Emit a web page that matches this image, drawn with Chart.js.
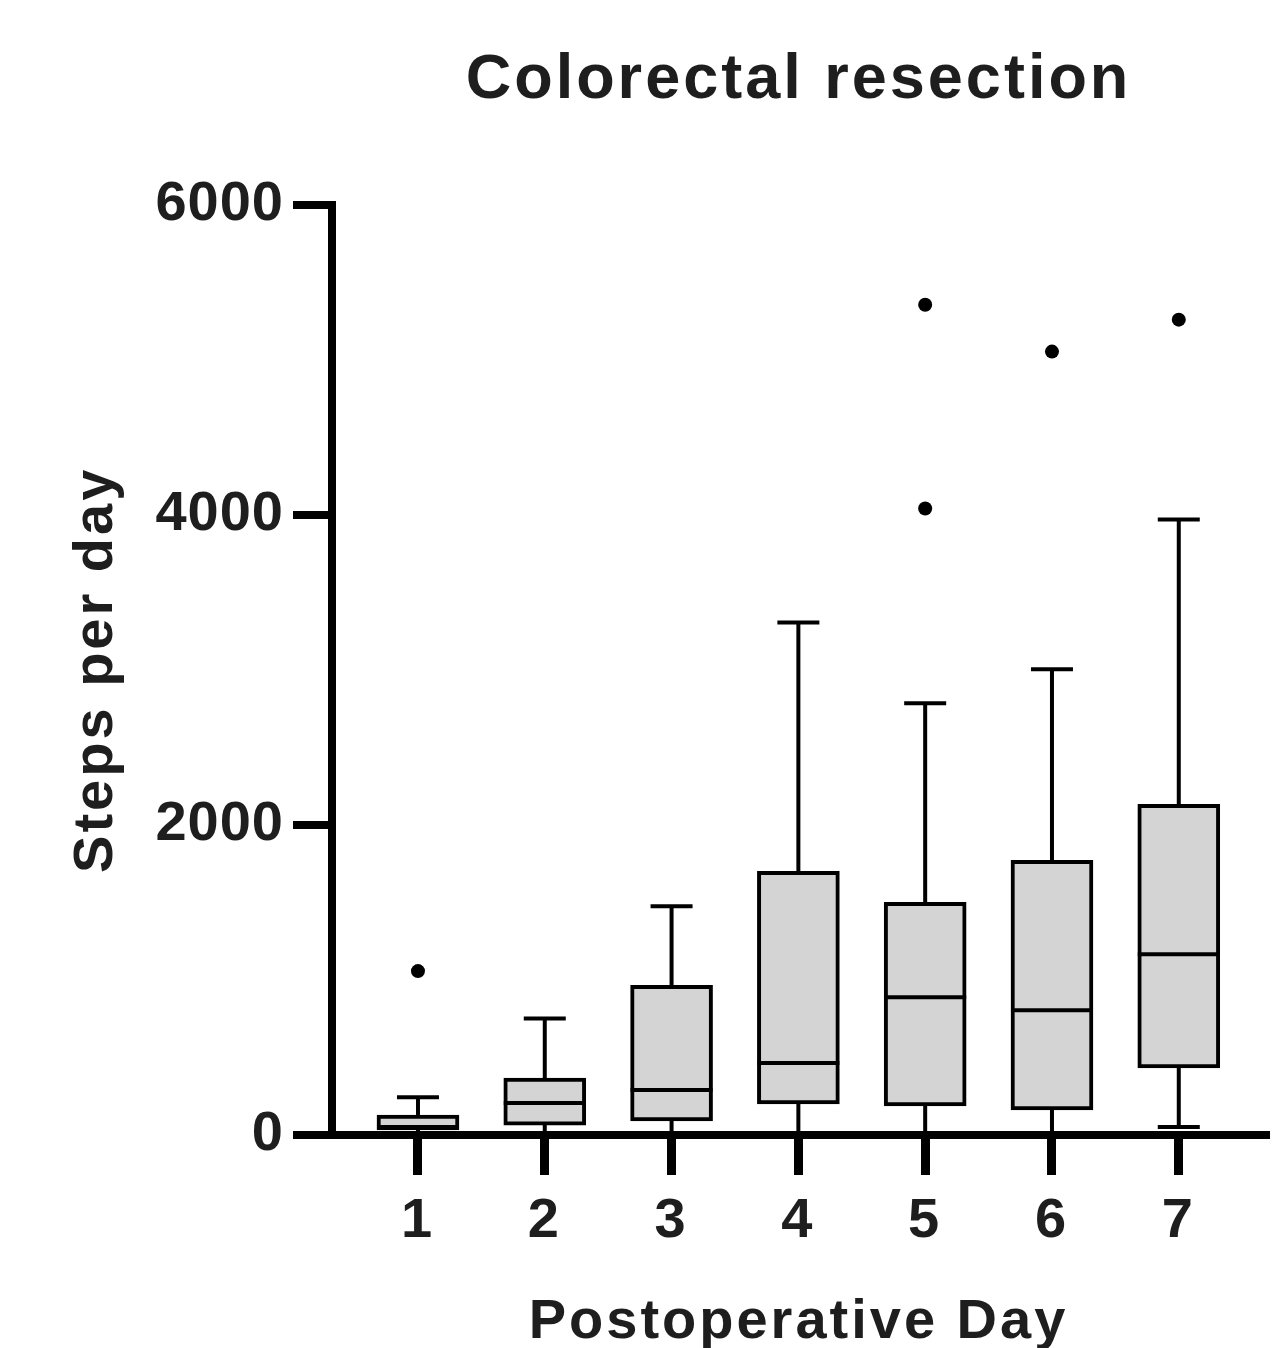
<!DOCTYPE html>
<html><head><meta charset="utf-8">
<script src="https://cdn.jsdelivr.net/npm/chart.js@4.4.1/dist/chart.umd.min.js"></script>
<style>html,body{margin:0;padding:0;background:#fff}canvas{display:block}</style>
</head><body>
<canvas id="c" width="1272" height="1348"></canvas>
<script>
const days = [1, 2, 3, 4, 5, 6, 7];
const dayLabels = ['1', '2', '3', '4', '5', '6', '7'];
const whiskerLow = [0, 0, 0, 0, 0, 0, 52];
const q1 = [32, 64, 90, 200, 187, 161, 432];
const median = [51, 206, 290, 464, 889, 805, 1166];
const q3 = [129, 367, 966, 1701, 1501, 1772, 2133];
const whiskerHigh = [244, 752, 1475, 3305, 2784, 3003, 3969];
const outlierDay = [1, 5, 5, 6, 7];
const outlierSteps = [1057, 5354, 4040, 5052, 5258];
const yTicks = [0, 2000, 4000, 6000];

const FONT = "'Liberation Sans', Arial, Helvetica, sans-serif";
const TXT = '#1e1e1e';

const spacingPlugin = {
  id: 'spacing',
  beforeLayout(c) { c.ctx.letterSpacing = '3px'; },
  beforeDraw(c) { c.ctx.letterSpacing = '3px'; }
};

function tightLabels(s, px) {
  if (s._tightPatched) return;
  s._tightPatched = true;
  const orig = s.drawLabels.bind(s);
  s.drawLabels = function (area) {
    const ctx = this.ctx;
    const prev = ctx.letterSpacing;
    ctx.letterSpacing = px;
    orig(area);
    ctx.letterSpacing = prev;
  };
}

const boxParts = {
  id: 'boxParts',
  beforeDatasetsDraw(chart) {
    const { ctx, scales: { x, y } } = chart;
    ctx.save();
    ctx.strokeStyle = '#000';
    ctx.lineWidth = 4;
    days.forEach((d, i) => {
      const px = x.getPixelForValue(d);
      ctx.beginPath();
      ctx.moveTo(px, y.getPixelForValue(whiskerLow[i]));
      ctx.lineTo(px, y.getPixelForValue(whiskerHigh[i]));
      ctx.stroke();
      [whiskerLow[i], whiskerHigh[i]].forEach(v => {
        const py = y.getPixelForValue(v);
        ctx.beginPath();
        ctx.moveTo(px - 21, py);
        ctx.lineTo(px + 21, py);
        ctx.stroke();
      });
    });
    ctx.restore();
  },
  afterDatasetsDraw(chart) {
    const { ctx, scales: { x, y } } = chart;
    ctx.save();
    ctx.strokeStyle = '#000';
    ctx.lineWidth = 4;
    days.forEach((d, i) => {
      const px = x.getPixelForValue(d);
      const py = y.getPixelForValue(median[i]);
      ctx.beginPath();
      ctx.moveTo(px - 41, py);
      ctx.lineTo(px + 41, py);
      ctx.stroke();
    });
    ctx.restore();
  }
};

new Chart(document.getElementById('c'), {
  type: 'bar',
  data: {
    datasets: [
      {
        type: 'bar',
        data: days.map((d, i) => ({ x: d, y: [q1[i], q3[i]] })),
        backgroundColor: '#d4d4d4',
        borderColor: '#000',
        borderWidth: 4,
        borderSkipped: false,
        barThickness: 82,
        order: 2
      },
      {
        type: 'scatter',
        data: outlierDay.map((d, i) => ({ x: d, y: outlierSteps[i] })),
        backgroundColor: '#000',
        borderColor: '#000',
        borderWidth: 0,
        pointRadius: 7,
        order: 1
      }
    ]
  },
  options: {
    responsive: false,
    animation: false,
    layout: { padding: { left: 0, right: 4, top: 0, bottom: 0 } },
    plugins: {
      legend: { display: false },
      tooltip: { enabled: false },
      title: {
        display: true,
        text: 'Colorectal resection',
        fullSize: false,
        color: TXT,
        font: { family: FONT, size: 63, weight: 'bold', lineHeight: 1.2 },
        padding: { top: 43, bottom: 86 }
      }
    },
    scales: {
      x: {
        type: 'linear',
        min: 0.322,
        max: 7.68,
        offset: false,
        afterBuildTicks: s => { s.ticks = days.map(v => ({ value: v })); },
        afterFit: s => { s.height = 213; },
        grid: { display: true, offset: false, drawOnChartArea: false, drawTicks: true,
                tickLength: 40, tickWidth: 9, lineWidth: 9, color: '#000', tickColor: '#000' },
        border: { display: true, color: '#000', width: 8 },
        ticks: {
          color: TXT, padding: 13, autoSkip: false, maxRotation: 0,
          font: { family: FONT, size: 56, weight: 'bold' },
          callback: v => dayLabels[days.indexOf(v)]
        },
        title: {
          display: true, text: 'Postoperative Day', color: TXT,
          font: { family: FONT, size: 56, weight: 'bold', lineHeight: 1 },
          padding: { top: 39, bottom: -3 }
        }
      },
      y: {
        type: 'linear',
        min: 0,
        max: 6000,
        afterBuildTicks: s => { s.ticks = yTicks.map(v => ({ value: v })); },
        afterFit: s => { s.width = 332; tightLabels(s, '1px'); },
        grid: { display: true, drawOnChartArea: false, drawTicks: true,
                tickLength: 39, tickWidth: 8, lineWidth: 8, color: '#000', tickColor: '#000' },
        border: { display: true, color: '#000', width: 8 },
        ticks: {
          color: TXT, padding: 9,
          font: { family: FONT, size: 56, weight: 'bold' },
          callback: v => String(v)
        },
        title: {
          display: true, text: 'Steps per day', color: TXT,
          font: { family: FONT, size: 56, weight: 'bold', lineHeight: 1 },
          padding: { top: 69, bottom: 26 }
        }
      }
    }
  },
  plugins: [spacingPlugin, boxParts]
});
</script>
</body></html>
